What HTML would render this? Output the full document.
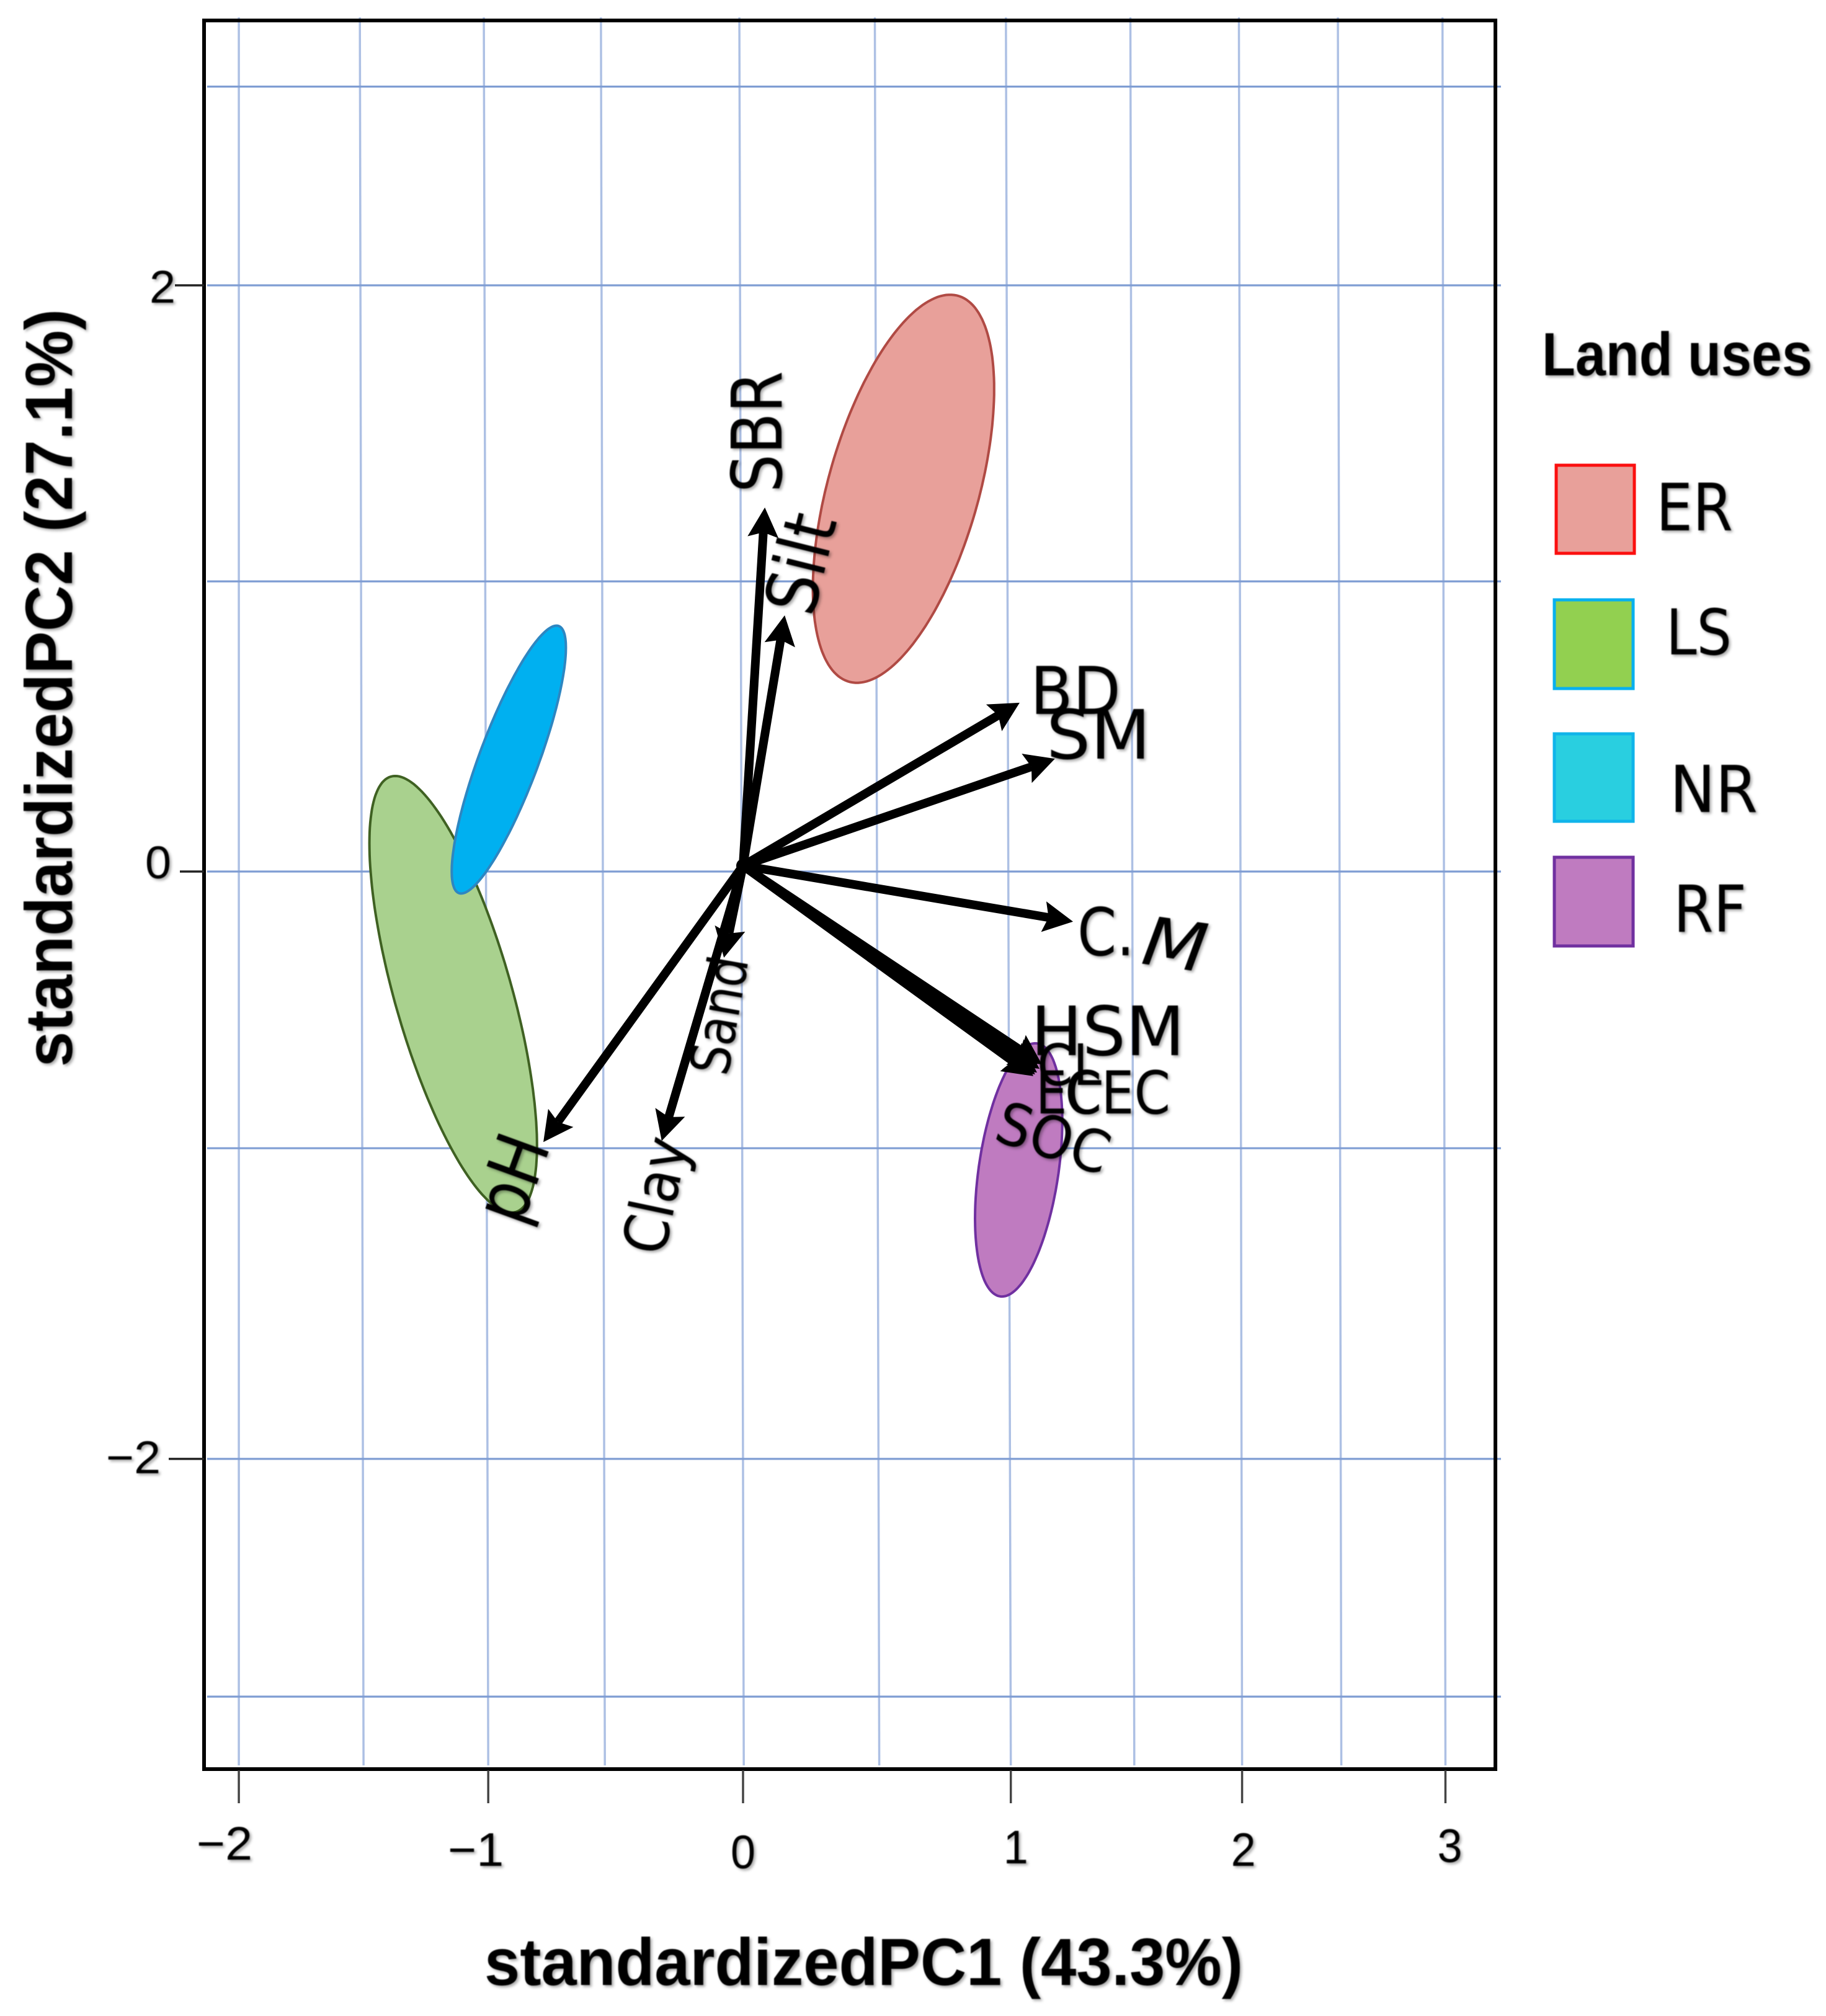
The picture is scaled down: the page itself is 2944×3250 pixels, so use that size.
<!DOCTYPE html>
<html lang="en">
<head>
<meta charset="utf-8">
<title>PCA biplot of land uses</title>
<style>
  html, body { margin: 0; padding: 0; background: #ffffff; }
  svg { display: block; }
  text { font-family: "Liberation Sans", sans-serif; fill: #000; }
  .lab text, text.lab { font-family: "DejaVu Sans", "Liberation Sans", sans-serif; }
</style>
</head>
<body>
<svg id="chart" xmlns="http://www.w3.org/2000/svg" width="2944" height="3250" viewBox="0 0 2944 3250">
  <defs>
    <filter id="soft" x="-10%" y="-10%" width="120%" height="120%">
      <feGaussianBlur in="SourceGraphic" stdDeviation="0.8" result="crisp"/>
      <feDropShadow in="crisp" dx="3" dy="3" stdDeviation="2.2" flood-color="#000" flood-opacity="0.32"/>
    </filter>
  </defs>
  <rect x="0" y="0" width="2944" height="3250" fill="#ffffff"/>
  <g id="grid"></g>
  <g id="ellipses"></g>
  <rect x="329" y="33" width="2082" height="2819" fill="none" stroke="#000" stroke-width="6"/>
  <g id="ticks"></g>
  <g id="arrows"></g>

  <g class="lab" filter="url(#soft)">
    <text transform="translate(1260 696) rotate(-90)" text-anchor="middle" font-size="112" textLength="196" lengthAdjust="spacingAndGlyphs">SBR</text>
    <text transform="translate(1330 918) rotate(-76)" text-anchor="middle" font-size="115" textLength="162" lengthAdjust="spacingAndGlyphs">Silt</text>
    <text x="1661" y="1151" font-size="106" textLength="146" lengthAdjust="spacingAndGlyphs">BD</text>
    <text x="1687" y="1223" font-size="110" textLength="168" lengthAdjust="spacingAndGlyphs">SM</text>
    <text x="1737" y="1540" font-size="106" textLength="92" lengthAdjust="spacingAndGlyphs">C.</text>
    <text transform="translate(1838 1553) rotate(8)" font-size="108" font-style="italic" textLength="104" lengthAdjust="spacingAndGlyphs">M</text>
    <text x="1662" y="1701" font-size="110" textLength="248" lengthAdjust="spacingAndGlyphs">HSM</text>
    <text x="1672" y="1749" font-size="92" textLength="104" lengthAdjust="spacingAndGlyphs">CL</text>
    <text x="1670" y="1795" font-size="95" textLength="106" lengthAdjust="spacingAndGlyphs">EC</text>
    <text x="1717" y="1795" font-size="95" textLength="170" lengthAdjust="spacingAndGlyphs">CEC</text>
    <text transform="translate(1688 1866) rotate(18)" text-anchor="middle" font-size="94" textLength="186" lengthAdjust="spacingAndGlyphs">SOC</text>
    <text transform="translate(1190 1642) rotate(-80)" text-anchor="middle" font-size="88" textLength="192" lengthAdjust="spacingAndGlyphs">Sand</text>
    <text transform="translate(1090 1934) rotate(-78)" text-anchor="middle" font-size="98" textLength="190" lengthAdjust="spacingAndGlyphs">Clay</text>
    <text transform="translate(864 1913) rotate(-70)" text-anchor="middle" font-size="118" textLength="140" lengthAdjust="spacingAndGlyphs">pH</text>
  </g>

  <g id="tick-labels" filter="url(#soft)"></g>

  <g filter="url(#soft)">
    <text x="781" y="3200" font-size="108" font-weight="700" textLength="1223" lengthAdjust="spacingAndGlyphs">standardizedPC1 (43.3%)</text>
    <text transform="translate(116 1109) rotate(-90)" text-anchor="middle" font-size="108" font-weight="700" textLength="1222" lengthAdjust="spacingAndGlyphs">standardizedPC2 (27.1%)</text>
  </g>

  <g>
    <g filter="url(#soft)">
      <text x="2486" y="605" font-size="98" font-weight="700" textLength="436" lengthAdjust="spacingAndGlyphs">Land uses</text>
      <text class="lab" x="2670" y="855" font-size="105" textLength="124" lengthAdjust="spacingAndGlyphs">ER</text>
      <text class="lab" x="2686" y="1055" font-size="102" textLength="106" lengthAdjust="spacingAndGlyphs">LS</text>
      <text class="lab" x="2692" y="1309" font-size="104" textLength="142" lengthAdjust="spacingAndGlyphs">NR</text>
      <text class="lab" x="2698" y="1502" font-size="104" textLength="118" lengthAdjust="spacingAndGlyphs">RF</text>
    </g>
    <rect x="2509" y="750" width="126" height="142" fill="#e8a09a" stroke="#fb0f0f" stroke-width="5"/>
    <rect x="2506" y="967" width="127" height="143" fill="#92d050" stroke="#08b0ee" stroke-width="5"/>
    <rect x="2506" y="1183" width="127" height="141" fill="#29cfe0" stroke="#10b4ea" stroke-width="5"/>
    <rect x="2506" y="1382" width="127" height="143" fill="#bf7bc0" stroke="#7030a0" stroke-width="5"/>
  </g>
</svg>

<script>
// ---- chart data ----
const gridPC1Top = [-2.053, -1.559, -1.053, -0.575, -0.010, 0.543, 1.078, 1.586, 2.029, 2.433, 2.860];
const gridPC1Bottom = [-2.053, -1.544, -1.035, -0.559, 0.008, 0.561, 1.098, 1.602, 2.042, 2.447, 2.872];
const gridPC2 = [2.678, 2.000, 0.990, 0.000, -0.944, -2.004, -2.815];

const xTickValues = [-2.053, -1.035, 0.005, 1.098, 2.042, 2.872];
const xTickLabels = ['\u22122', '\u22121', '0', '1', '2', '3'];
const yTickValues = [2, 0, -2.004];
const yTickLabels = ['2', '0', '\u22122'];

const groupNames = ['ER', 'LS', 'NR', 'RF'];
const groupCenterPC1 = [0.660, -1.178, -0.951, 1.130];
const groupCenterPC2 = [1.306, -0.419, 0.382, -1.018];
const groupSpreadPC1 = [0.370, 0.342, 0.233, 0.178];
const groupSpreadPC2 = [0.662, 0.745, 0.457, 0.432];
const groupCorrelation = [0.514, -0.692, 0.835, 0.383];

const variableNames = ['SOC', 'CEC', 'EC', 'CL', 'HSM', 'SBR', 'Silt', 'BD', 'SM', 'C.M', 'Sand', 'Clay', 'pH'];
const loadingPC1 = [1.190, 1.197, 1.205, 1.215, 1.225, 0.094, 0.175, 1.134, 1.278, 1.352, -0.073, -0.327, -0.810];
const loadingPC2 = [-0.698, -0.692, -0.686, -0.673, -0.658, 1.242, 0.874, 0.576, 0.385, -0.171, -0.294, -0.919, -0.923];
const originPC1 = 0.005;
const originPC2 = 0.020;

// ---- axis functions ----
function xAxis(v) { return 1196 + 395 * v; }
function yAxis(v) { return 1405 - 472.5 * v; }

// ---- drawing ----
const NS = 'http://www.w3.org/2000/svg';
const groupFill = { ER: '#e8a09a', LS: '#a9d18e', NR: '#00b0f0', RF: '#bf7bc0' };
const groupStroke = { ER: '#b04a44', LS: '#3f6122', NR: '#2e86c1', RF: '#7030a0' };
const xLabelShift = [-23, -20, 0, 8, 2, 7];
const xLabelDrop = [-10, 0, 4, -4, 0, -6];
const yLabelRight = [283, 276, 259];
const yLabelBase = [488, 1416, 2375];
const yTickStart = [282, 290, 272];

function make(tag, parent, attrs) {
  const el = document.createElementNS(NS, tag);
  for (const k in attrs) el.setAttribute(k, attrs[k]);
  parent.appendChild(el);
  return el;
}

const gridG = document.getElementById('grid');
gridPC1Top.forEach(function (top, i) {
  const el = make('line', gridG, {
    x1: xAxis(top), y1: 28, x2: xAxis(gridPC1Bottom[i]), y2: 2846,
    stroke: '#adc0e4', 'stroke-width': 3.5
  });
  
  
});
gridPC2.forEach(function (v, i) {
  const el = make('line', gridG, {
    x1: 334, y1: yAxis(v), x2: 2420, y2: yAxis(v),
    stroke: '#7f9dd3', 'stroke-width': 3.2
  });
  
  
});

const ellipseG = document.getElementById('ellipses');
[1, 2, 0, 3].forEach(function (g) {
  const r = groupCorrelation[g];
  const q = Math.sqrt(1 - r * r);
  let d = '';
  for (let k = 0; k < 180; k++) {
    const t = 2 * Math.PI * k / 180;
    const px = xAxis(groupCenterPC1[g] + groupSpreadPC1[g] * Math.cos(t));
    const py = yAxis(groupCenterPC2[g] + groupSpreadPC2[g] * (r * Math.cos(t) + q * Math.sin(t)));
    d += (k ? 'L' : 'M') + px.toFixed(1) + ' ' + py.toFixed(1);
  }
  const name = groupNames[g];
  const el = make('path', ellipseG, {
    d: d + 'Z', fill: groupFill[name], stroke: groupStroke[name], 'stroke-width': 4
  });
  
  
});

const tickG = document.getElementById('ticks');
const labelG = document.getElementById('tick-labels');
xTickValues.forEach(function (v, i) {
  const tick = make('line', tickG, {
    x1: xAxis(v), y1: 2854, x2: xAxis(v), y2: 2907, stroke: '#444', 'stroke-width': 3.5
  });
  
  
  const label = make('text', labelG, {
    x: xAxis(v) + xLabelShift[i], y: 3008 + xLabelDrop[i], 'text-anchor': 'middle',
    'font-size': 76, textLength: xTickLabels[i].length > 1 ? 90 : 40, lengthAdjust: 'spacingAndGlyphs'
  });
  label.textContent = xTickLabels[i];
  
  
});
yTickValues.forEach(function (v, i) {
  const tick = make('line', tickG, {
    x1: yTickStart[i], y1: yAxis(v), x2: 329, y2: yAxis(v), stroke: '#222', 'stroke-width': 3.5
  });
  
  
  const label = make('text', labelG, {
    x: yLabelRight[i], y: yLabelBase[i], 'text-anchor': 'end',
    'font-size': 74, textLength: yTickLabels[i].length > 1 ? 88 : 42, lengthAdjust: 'spacingAndGlyphs'
  });
  label.textContent = yTickLabels[i];
  
  
});

const arrowG = document.getElementById('arrows');
const ox = xAxis(originPC1);
const oy = yAxis(originPC2);
variableNames.forEach(function (name, i) {
  const tx = xAxis(loadingPC1[i]);
  const ty = yAxis(loadingPC2[i]);
  const len = Math.hypot(tx - ox, ty - oy);
  const ux = (tx - ox) / len;
  const uy = (ty - oy) / len;
  const bx = tx - ux * 48;
  const by = ty - uy * 48;
  const nx = tx - ux * 40;
  const ny = ty - uy * 40;
  const g = make('g', arrowG, {});
  
  
  make('line', g, { x1: ox, y1: oy, x2: nx, y2: ny, stroke: '#000', 'stroke-width': 14 });
  make('polygon', g, {
    points: [
      tx + ',' + ty,
      (bx - uy * 25) + ',' + (by + ux * 25),
      nx + ',' + ny,
      (bx + uy * 25) + ',' + (by - ux * 25)
    ].join(' '),
    fill: '#000'
  });
});
const dot = make('circle', arrowG, { cx: ox, cy: oy, r: 11, fill: '#000' });


</script>
</body>
</html>
